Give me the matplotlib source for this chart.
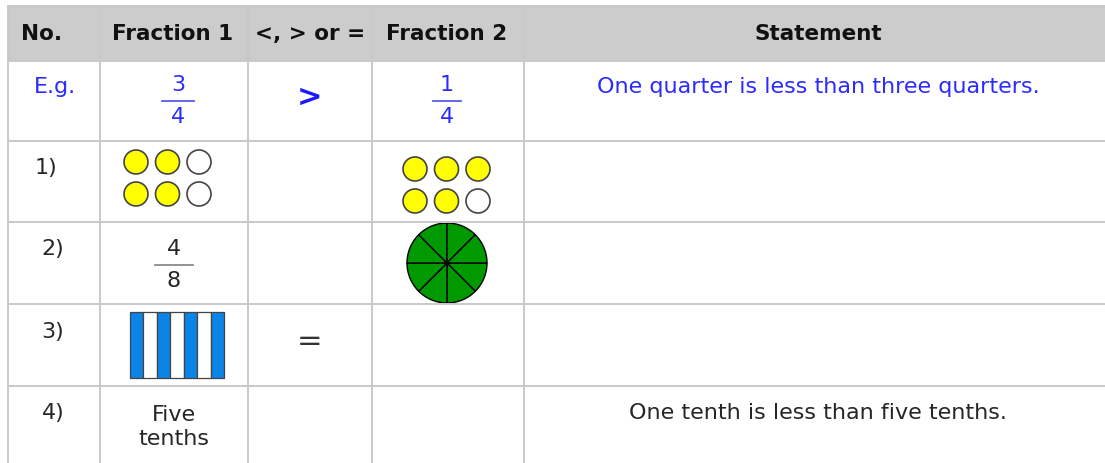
import matplotlib
matplotlib.use("Agg")
import matplotlib.pyplot as plt
from matplotlib.patches import Rectangle, Circle, Wedge

# table content
headers = ["No.", "Fraction 1", "<, > or =", "Fraction 2", "Statement"]
row_labels = ["E.g.", "1)", "2)", "3)", "4)"]
symbols = [">", "", "", "=", ""]
statements = ["One quarter is less than three quarters.", "", "", "",
              "One tenth is less than five tenths."]
example_f1 = (3, 4)
example_f2 = (1, 4)
dots_f1 = [1, 1, 0, 1, 1, 0]      # row 1, fraction 1 (1 = shaded)
dots_f2 = [1, 1, 1, 1, 1, 0]      # row 1, fraction 2
frac_row2 = (4, 8)
pie_parts = 8                     # row 2, fraction 2, all shaded
bar_parts = [1, 0, 1, 0, 1, 0, 1] # row 3, fraction 1
words_row4 = "Five\ntenths"

col_edges = [8, 100, 248, 372, 524, 1120]
row_edges = [7, 62, 142, 223, 305, 387, 480]

blue = "#2b2bff"
dark = "#262626"
grid = "#c9c9c9"
font = ["DejaVu Sans"]
fs = 16

fig = plt.figure(figsize=(11.05, 4.64), dpi=100)
ax = fig.add_axes([0, 0, 1, 1])
ax.set_xlim(0, 1105)
ax.set_ylim(464, 0)
ax.axis("off")

# header background
ax.add_patch(Rectangle((col_edges[0], row_edges[0]), col_edges[-1] - col_edges[0],
                       row_edges[1] - row_edges[0], facecolor="#cccccc", edgecolor="none"))
# grid lines
for x in col_edges[:-1]:
    ax.plot([x, x], [row_edges[0], row_edges[-1]], color=grid, lw=1.4)
for y in row_edges[:-1]:
    ax.plot([col_edges[0], col_edges[-1]], [y, y], color=grid, lw=1.4)

cx = [42, 173, 310, 447, 818]
for i, h in enumerate(headers):
    ax.text(cx[i], 34, h, ha="center", va="center", fontsize=15.5,
            fontweight="bold", family=font, color="#111111")

# row numbers
label_y = [87, 168, 249, 332, 413]
label_x = [55, 46, 53, 53, 53]
for i, lab in enumerate(row_labels):
    ax.text(label_x[i], label_y[i], lab, ha="center", va="center", fontsize=fs,
            family=font, color=blue if i == 0 else dark)


def fraction(x, y, num, den, color, w=36, lc=None):
    ax.text(x, y - 17, str(num), ha="center", va="center", fontsize=fs,
            family=font, color=color)
    ax.plot([x - w / 2, x + w / 2], [y, y], color=lc or color, lw=1.3)
    ax.text(x, y + 15, str(den), ha="center", va="center", fontsize=fs,
            family=font, color=color)


# example row
fraction(178, 102, example_f1[0], example_f1[1], blue, w=32, lc="#5a5af0")
fraction(447, 102, example_f2[0], example_f2[1], blue, w=28, lc="#5a5af0")
ax.text(310, 97, symbols[0], ha="center", va="center", fontsize=22,
        fontweight="bold", family=font, color="#1a1aff")
ax.text(818, 87, statements[0], ha="center", va="center", fontsize=fs,
        family=font, color=blue)


# row 1: dot arrays
def dots(x0, y0, fills, step_x=31.5, step_y=32, r=12):
    for k, f in enumerate(fills):
        ax.add_patch(Circle((x0 + (k % 3) * step_x, y0 + (k // 3) * step_y), r,
                            facecolor="#ffff00" if f else "white",
                            edgecolor="#444444", lw=1.2))


dots(136, 163, dots_f1)
dots(415, 170, dots_f2)

# row 2
fraction(174, 266, frac_row2[0], frac_row2[1], dark, w=38, lc="#8a8a8a")
pc = (447, 264)
for k in range(pie_parts):
    ax.add_patch(Wedge(pc, 40, k * 360 / pie_parts, (k + 1) * 360 / pie_parts,
                       facecolor="#009900", edgecolor="black", lw=1.0))
ax.add_patch(Circle(pc, 1.8, color="black"))

# row 3: bar model
bx0, bx1, by0, by1 = 130, 224, 313, 379
bw = (bx1 - bx0) / len(bar_parts)
for k, f in enumerate(bar_parts):
    ax.add_patch(Rectangle((bx0 + k * bw, by0), bw, by1 - by0,
                           facecolor="#0a84e6" if f else "white",
                           edgecolor="#444444", lw=0.9))
ax.text(310, 342, symbols[3], ha="center", va="center", fontsize=22,
        family=font, color="#333333")

# row 4
ax.text(174, 427, words_row4, ha="center", va="center", fontsize=fs,
        family=font, color=dark, linespacing=1.2)
ax.text(818, 413, statements[4], ha="center", va="center", fontsize=fs,
        family=font, color=dark)

fig.savefig("out.png", dpi=100)
